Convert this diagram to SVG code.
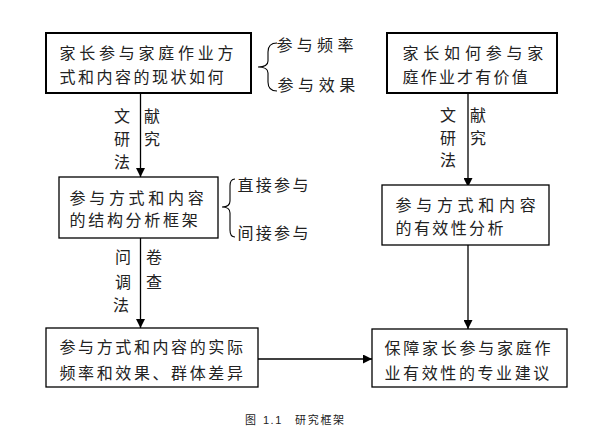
<svg xmlns="http://www.w3.org/2000/svg" width="590" height="434" viewBox="0 0 590 434">
<defs>
<marker id="arr" viewBox="0 0 10 10" refX="10" refY="5" markerWidth="9" markerHeight="9" markerUnits="userSpaceOnUse" orient="auto">
<path d="M0,0 L10,5 L0,10 Z" fill="#000"/>
</marker>
<style>
.box{fill:#fff;stroke:#000;stroke-width:1.3}
.thick{stroke-width:2}
.t{font-family:"Noto Sans CJK SC","Noto Sans CJK JP",sans-serif;font-size:16px;fill:#222}
.v{font-family:"Noto Sans CJK SC","Noto Sans CJK JP",sans-serif;font-size:16px;fill:#222;text-anchor:middle}
.ln{fill:none;stroke:#000;stroke-width:1.3}
.br{fill:none;stroke:#000;stroke-width:1.1}
.cap{font-family:"Noto Sans CJK SC","Liberation Sans",sans-serif;font-size:11px;fill:#222}
</style>
</defs>
<rect width="590" height="434" fill="#fff"/>

<g id="connectors">
<line class="ln" x1="140.5" y1="93" x2="140.5" y2="177" marker-end="url(#arr)"/>
<line class="ln" x1="140.5" y1="238" x2="140.5" y2="328" marker-end="url(#arr)"/>
<line class="ln" x1="468" y1="93" x2="468" y2="187" marker-end="url(#arr)"/>
<line class="ln" x1="468" y1="245" x2="468" y2="329" marker-end="url(#arr)"/>
<line class="ln" x1="258" y1="359" x2="372" y2="359" marker-end="url(#arr)"/>
<text class="v" x="122" y="122">文</text>
<text class="v" x="122" y="145">研</text>
<text class="v" x="122" y="168">法</text>
<text class="v" x="152" y="122">献</text>
<text class="v" x="152" y="145">究</text>
<text class="v" x="123" y="263">问</text>
<text class="v" x="123" y="288">调</text>
<text class="v" x="121" y="311">法</text>
<text class="v" x="154" y="263">卷</text>
<text class="v" x="154" y="288">查</text>
<text class="v" x="448" y="121">文</text>
<text class="v" x="448" y="144">研</text>
<text class="v" x="448" y="166">法</text>
<text class="v" x="478" y="121">献</text>
<text class="v" x="478" y="144">究</text>
</g>

<g id="node1">
<rect class="box thick" x="46" y="33" width="205" height="60"/>
<text class="t" x="59.5" y="59" letter-spacing="3.75">家长参与家庭作业方</text>
<text class="t" x="59.5" y="83" letter-spacing="2.5">式和内容的现状如何</text>
</g>
<g id="node1-brace">
<path class="br" d="M277,43 Q268,43 268,52 L268,61 Q268,67 258,67 Q268,67 268,73 L268,82 Q268,91 277,91"/>
<text class="t" x="276.5" y="51" letter-spacing="4.3">参与频率</text>
<text class="t" x="277.5" y="91" letter-spacing="4.6">参与效果</text>
</g>

<g id="node2">
<rect class="box" x="59" y="177" width="159" height="61"/>
<text class="t" x="69.5" y="204" letter-spacing="3.7">参与方式和内容</text>
<text class="t" x="69.5" y="226" letter-spacing="2.7">的结构分析框架</text>
</g>
<g id="node2-brace">
<path class="br" d="M235,179 Q230,179 230,186 L230,201 Q230,207 222,207 Q230,207 230,213 L230,230 Q230,237 235,237"/>
<text class="t" x="237.5" y="191" letter-spacing="2.3">直接参与</text>
<text class="t" x="237.5" y="239" letter-spacing="2.3">间接参与</text>
</g>

<g id="node3">
<rect class="box" x="46" y="328" width="212" height="59"/>
<text class="t" x="59.5" y="353" letter-spacing="2.6">参与方式和内容的实际</text>
<text class="t" x="59.5" y="379" letter-spacing="2.6">频率和效果、群体差异</text>
</g>

<g id="node4">
<rect class="box" x="372" y="329" width="195" height="58"/>
<text class="t" x="384.5" y="354" letter-spacing="2.75">保障家长参与家庭作</text>
<text class="t" x="384.5" y="379" letter-spacing="2.6">业有效性的专业建议</text>
</g>

<g id="node5">
<rect class="box thick" x="387" y="33" width="170" height="60"/>
<text class="t" x="402.5" y="59" letter-spacing="4.8">家长如何参与家</text>
<text class="t" x="402.5" y="83" letter-spacing="2.2">庭作业才有价值</text>
</g>

<g id="node6">
<rect class="box" x="382" y="185" width="167" height="60"/>
<text class="t" x="395.5" y="211" letter-spacing="4.7">参与方式和内容</text>
<text class="t" x="395.5" y="234" letter-spacing="2.4">的有效性分析</text>
</g>

<g id="caption">
<text class="cap" y="424"><tspan x="245">图</tspan><tspan x="263" letter-spacing="1.5" font-family="Liberation Sans, sans-serif">1.1</tspan><tspan x="295" letter-spacing="1.7">研究框架</tspan></text>
</g>
</svg>
